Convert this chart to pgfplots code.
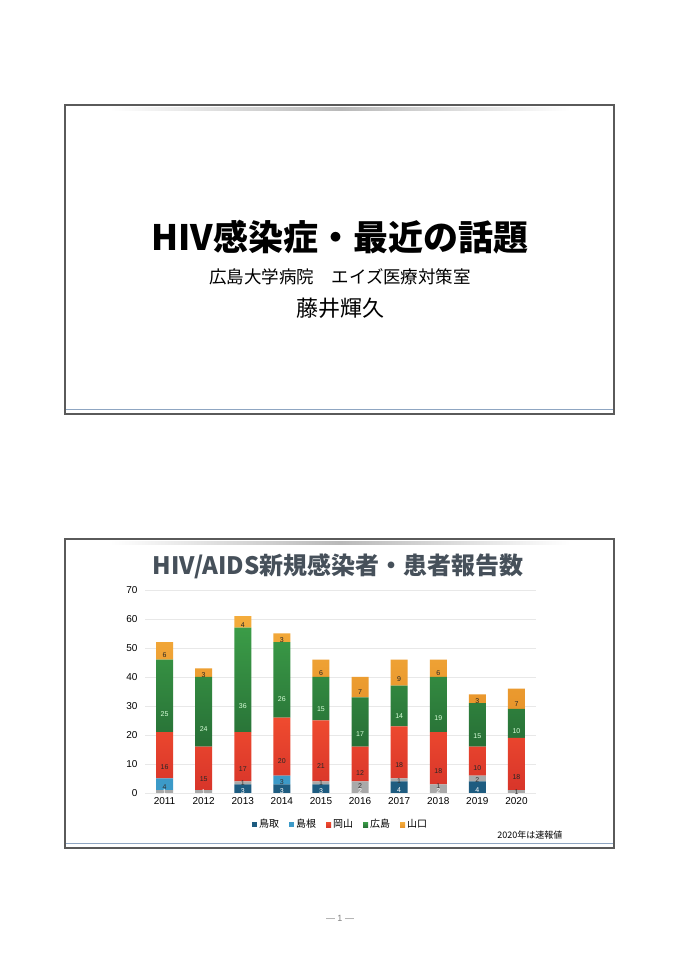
\documentclass[border=0pt]{standalone}
\usepackage{fontspec}
\setmainfont{Liberation Sans}
\newfontfamily\cjk{Noto Sans CJK JP}
\usepackage{pgfplots}
\pgfplotsset{compat=1.18}
\usepackage{pgfplotstable}

\definecolor{cteal}{HTML}{1E5C80}
\definecolor{cblue}{HTML}{3C9AC8}
\definecolor{cgray}{HTML}{A9A9A9}
\definecolor{credt}{HTML}{EF4B2F}
\definecolor{credb}{HTML}{D8352A}
\definecolor{cgrnt}{HTML}{3B9C47}
\definecolor{cgrnb}{HTML}{276F36}
\definecolor{corgt}{HTML}{F4AC3C}
\definecolor{corgb}{HTML}{E8952B}
\definecolor{ctitle}{HTML}{46505A}
\definecolor{cframe}{HTML}{5A5A5A}
\definecolor{cline}{HTML}{8FA6C2}

\pgfplotstableread{
i T Tg S Sg O H Y
0 0 1 4 0 16 25 6
1 0 1 0 0 15 24 3
2 3 0 0 1 17 36 4
3 3 0 3 0 20 26 3
4 3 0 0 1 21 15 6
5 0 2 0 2 12 17 7
6 4 0 0 1 18 14 9
7 0 2 0 1 18 19 6
8 4 0 0 2 10 15 3
9 0 0 0 1 18 10 7
}\datatable

\begin{document}
\begin{tikzpicture}[x=1pt,y=1pt]
\fill[white] (0,0) rectangle (679,960);

% ---- top slide ----
\shade[left color=white,right color=white,middle color=gray!55] (110,849) rectangle (570,852);
\draw[cline,line width=0.8pt] (65,551) -- (614,551);
\draw[cframe,line width=1.1pt] (65,546) rectangle (614,855);
\node[font={\cjk\bfseries\fontsize{35}{40}\selectfont}] at (340,723) {HIV感染症・最近の話題};
\node[font={\cjk\fontsize{17.5}{20}\selectfont}] at (340,683) {広島大学病院　エイズ医療対策室};
\node[font={\cjk\fontsize{22}{26}\selectfont}] at (340,652) {藤井輝久};

% ---- bottom slide ----
\shade[left color=white,right color=white,middle color=gray!55] (110,415) rectangle (570,418);
\draw[cline,line width=0.8pt] (65,117) -- (614,117);
\draw[cframe,line width=1.1pt] (65,112) rectangle (614,421);
\node[text=ctitle,font={\cjk\bfseries\fontsize{24}{27}\selectfont}] at (338,394) {HIV/AIDS新規感染者・患者報告数};
\node[anchor=east,font={\cjk\fontsize{9}{11}\selectfont}] at (566,125) {2020年は速報値};

\node[text=gray,font=\fontsize{9}{11}\selectfont] at (340,42) {\textemdash\ 1 \textemdash};

\begin{axis}[
  at={(145pt,167pt)}, anchor=south west,
  scale only axis, width=391pt, height=203pt,
  ymin=0, ymax=70, xmin=-0.5, xmax=9.5,
  ytick={0,10,20,30,40,50,60,70},
  xtick={0,1,2,3,4,5,6,7,8,9},
  xticklabels={2011,2012,2013,2014,2015,2016,2017,2018,2019,2020},
  ybar stacked, bar width=17pt,
  axis line style={draw=none}, major tick style={draw=none},
  ymajorgrids, grid style={gray!18, line width=0.5pt},
  tick label style={font=\fontsize{10}{12}\selectfont},
  yticklabel style={xshift=-4pt},
  xticklabel style={yshift=-1pt},
  /pgf/number format/assume math mode=true,
  legend style={at={(0.5,-0.11)}, anchor=north, draw=none, fill=none,
    legend columns=-1, font={\cjk\fontsize{10}{12}\selectfont},
    /tikz/every even column/.append style={column sep=8pt}},
  legend image code/.code={\path[#1,draw=none] (0pt,-2.8pt) rectangle (5pt,2.2pt);},
  nodes near coords={\pgfmathfloatifflags{\pgfplotspointmeta}{0}{}{\pgfmathprintnumber{\pgfplotspointmeta}}},
  visualization depends on={rawy \as \rawy},
  every node near coord/.append style={anchor=center, yshift={-0.725pt*\rawy}, font=\fontsize{7}{7}\selectfont, inner sep=0pt},
]
\addplot[fill=cteal, draw=none, every node near coord/.append style={text=white}] table[x=i,y=T] {\datatable};
\addlegendentry{鳥取}
\addplot[fill=cgray, draw=none, forget plot, every node near coord/.append style={text=white}] table[x=i,y=Tg] {\datatable};
\addplot[fill=cblue, draw=none, every node near coord/.append style={text=black!80}] table[x=i,y=S] {\datatable};
\addlegendentry{島根}
\addplot[fill=cgray, draw=none, forget plot, every node near coord/.append style={text=black!80}] table[x=i,y=Sg] {\datatable};
\addplot[top color=credt, bottom color=credb, draw=none, every node near coord/.append style={text=black!85}] table[x=i,y=O] {\datatable};
\addlegendentry{岡山}
\addplot[top color=cgrnt, bottom color=cgrnb, draw=none, every node near coord/.append style={text=white!85!green}] table[x=i,y=H] {\datatable};
\addlegendentry{広島}
\addplot[top color=corgt, bottom color=corgb, draw=none, every node near coord/.append style={text=black!85}] table[x=i,y=Y] {\datatable};
\addlegendentry{山口}
\end{axis}
\end{tikzpicture}
\end{document}
